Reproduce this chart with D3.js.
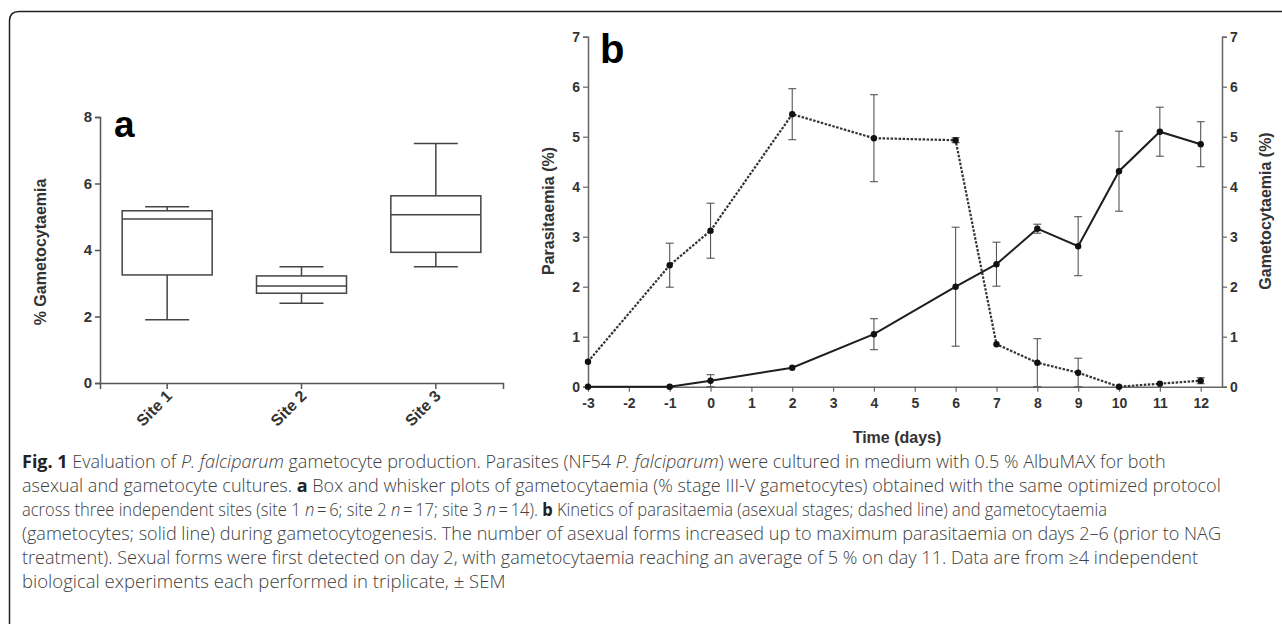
<!DOCTYPE html>
<html>
<head>
<meta charset="utf-8">
<script src="https://cdnjs.cloudflare.com/ajax/libs/d3/7.8.5/d3.min.js"></script>
<style>
	html, body { margin: 0; padding: 0; background: #fff; }
	svg { display: block; }
	.tick text { font-family: "Liberation Sans", Arial, sans-serif; font-weight: bold; fill: #333; }
	.caption { font-family: "Open Sans", sans-serif; font-weight: 300; fill: #404040; }
</style>
</head>
<body>
<div id="chart"></div>
<script>
// panel a: box plot values (% gametocytaemia)
var sites = ["Site 1", "Site 2", "Site 3"];
var boxMin = [1.9, 2.4, 3.5];
var boxQ1 = [3.25, 2.7, 3.93];
var boxMedian = [4.93, 2.92, 5.06];
var boxQ3 = [5.18, 3.22, 5.63];
var boxMax = [5.3, 3.5, 7.2];
var boxTicks = [0, 2, 4, 6, 8];

// panel b: kinetics over time
var days = [-3, -1, 0, 2, 4, 6, 7, 8, 9, 10, 11, 12];
var dayTicks = [-3, -2, -1, 0, 1, 2, 3, 4, 5, 6, 7, 8, 9, 10, 11, 12];
var parasitaemia = [0.5, 2.43, 3.12, 5.45, 4.97, 4.93, 0.85, 0.48, 0.28, 0.0, 0.06, 0.12];
var parasitaemiaSem = [0, 0.44, 0.55, 0.51, 0.87, 0.05, 0, 0.48, 0.29, 0, 0, 0.06];
var gametocytaemia = [0, 0, 0.12, 0.38, 1.05, 2.0, 2.45, 3.16, 2.81, 4.31, 5.1, 4.85];
var gametocytaemiaSem = [0, 0, 0.12, 0, 0.31, 1.19, 0.44, 0.09, 0.59, 0.8, 0.49, 0.45];
var percentTicks = [0, 1, 2, 3, 4, 5, 6, 7];

var captionLines = [
	[["b", "Fig. 1"], ["n", " Evaluation of "], ["i", "P. falciparum"], ["n", " gametocyte production. Parasites (NF54 "], ["i", "P. falciparum"], ["n", ") were cultured in medium with 0.5 % AlbuMAX for both"]],
	[["n", "asexual and gametocyte cultures. "], ["b", "a"], ["n", " Box and whisker plots of gametocytaemia (% stage III-V gametocytes) obtained with the same optimized protocol"]],
	[["n", "across three independent sites (site 1 "], ["i", "n"], ["n", "\u2009=\u20096; site 2 "], ["i", "n"], ["n", "\u2009=\u200917; site 3 "], ["i", "n"], ["n", "\u2009=\u200914). "], ["b", "b"], ["n", " Kinetics of parasitaemia (asexual stages; dashed line) and gametocytaemia"]],
	[["n", "(gametocytes; solid line) during gametocytogenesis. The number of asexual forms increased up to maximum parasitaemia on days 2\u20136 (prior to NAG"]],
	[["n", "treatment). Sexual forms were first detected on day 2, with gametocytaemia reaching an average of 5 % on day 11. Data are from \u22654 independent"]],
	[["n", "biological experiments each performed in triplicate, \u00b1 SEM"]]
];
var captionWidths = [1144, 1200, 1086, 1200, 1177, 484];

var width = 1282, height = 624;
var axisColor = "#555";
var lineColor = "#1e1e1e";
var plainFormat = function(d) { return String(d); };

var svg = d3.select("#chart").append("svg")
	.attr("width", width)
	.attr("height", height);

// frame with a rounded top-left corner
svg.append("path")
	.attr("d", "M1282,11.5 L19,11.5 Q9.5,11.5 9.5,21 L9.5,624")
	.attr("fill", "none")
	.attr("stroke", "#222")
	.attr("stroke-width", 1.5);

// ---------- panel a ----------
var xA = d3.scaleBand().domain(sites).range([100, 503]);
var yA = d3.scaleLinear().domain([0, 8]).range([383, 117]);
var boxW = 90, capW = 44;

var gA = svg.append("g");

var axA = gA.append("g")
	.attr("transform", "translate(100,0)")
	.call(d3.axisLeft(yA).tickValues(boxTicks).tickFormat(plainFormat).tickSize(5).tickPadding(3));
axA.selectAll("text").style("font-size", "15px");

var axAx = gA.append("g")
	.attr("transform", "translate(0,383)")
	.call(d3.axisBottom(xA).tickSize(6).tickFormat(""));

[axA, axAx].forEach(function(a) {
	a.select(".domain").attr("stroke", axisColor).attr("stroke-width", 1.5);
	a.selectAll(".tick line").attr("stroke", axisColor).attr("stroke-width", 1.5);
});

// rotated site labels
gA.selectAll("text.site")
	.data(sites).enter()
	.append("text")
		.attr("class", "site")
		.attr("text-anchor", "end")
		.attr("transform", function(d) {
			return "translate(" + (xA(d) + xA.bandwidth() / 2 + 6) + ",397) rotate(-45)";
		})
		.style("font-family", "Liberation Sans, Arial, sans-serif")
		.style("font-weight", "bold")
		.style("font-size", "16px")
		.style("fill", "#333")
		.text(function(d) { return d; });

var boxes = gA.selectAll("g.box")
	.data(sites).enter()
	.append("g")
		.attr("class", "box")
		.attr("stroke", "#444")
		.attr("stroke-width", 1.5)
		.attr("fill", "none");

boxes.each(function(d, i) {
	var g = d3.select(this);
	var cx = xA(d) + xA.bandwidth() / 2;
	// whiskers
	g.append("line").attr("x1", cx).attr("x2", cx).attr("y1", yA(boxMax[i])).attr("y2", yA(boxQ3[i]));
	g.append("line").attr("x1", cx).attr("x2", cx).attr("y1", yA(boxQ1[i])).attr("y2", yA(boxMin[i]));
	g.append("line").attr("x1", cx - capW / 2).attr("x2", cx + capW / 2).attr("y1", yA(boxMax[i])).attr("y2", yA(boxMax[i]));
	g.append("line").attr("x1", cx - capW / 2).attr("x2", cx + capW / 2).attr("y1", yA(boxMin[i])).attr("y2", yA(boxMin[i]));
	// box and median
	g.append("rect")
		.attr("x", cx - boxW / 2)
		.attr("y", yA(boxQ3[i]))
		.attr("width", boxW)
		.attr("height", yA(boxQ1[i]) - yA(boxQ3[i]))
		.attr("fill", "#fff");
	g.append("line").attr("x1", cx - boxW / 2).attr("x2", cx + boxW / 2).attr("y1", yA(boxMedian[i])).attr("y2", yA(boxMedian[i]));
});

gA.append("text")
	.attr("transform", "translate(46,252) rotate(-90)")
	.attr("text-anchor", "middle")
	.style("font-family", "Liberation Sans, Arial, sans-serif")
	.style("font-weight", "bold")
	.style("font-size", "16px")
	.style("fill", "#333")
	.text("% Gametocytaemia");

gA.append("text")
	.attr("x", 114)
	.attr("y", 137)
	.style("font-family", "Liberation Sans, Arial, sans-serif")
	.style("font-weight", "bold")
	.style("font-size", "37px")
	.style("fill", "#000")
	.text("a");

// ---------- panel b ----------
var xB = d3.scaleLinear().domain([-3, 12]).range([588, 1200.7]);
var yB = d3.scaleLinear().domain([0, 7]).range([386.7, 36.7]);
var rightX = 1222;

var gB = svg.append("g");

var axL = gB.append("g")
	.attr("transform", "translate(588,0)")
	.call(d3.axisLeft(yB).tickValues(percentTicks).tickFormat(plainFormat).tickSize(5).tickPadding(3));
var axR = gB.append("g")
	.attr("transform", "translate(" + rightX + ",0)")
	.call(d3.axisRight(yB).tickValues(percentTicks).tickFormat(plainFormat).tickSize(5).tickPadding(3));
var axB = gB.append("g")
	.attr("transform", "translate(0,386.7)")
	.call(d3.axisBottom(xB).tickValues(dayTicks).tickFormat(plainFormat).tickSize(5).tickPadding(6));
// stretch the time axis to the right axis
axB.select(".domain").attr("d", "M588,0.5H" + rightX);

[axL, axR, axB].forEach(function(a) {
	a.select(".domain").attr("stroke", "#666").attr("stroke-width", 1.5);
	a.selectAll(".tick line").attr("stroke", "#666").attr("stroke-width", 1.2);
	a.selectAll("text").style("font-size", "14px");
});

// error bars
function errorBars(values, sem, cls) {
	var g = gB.append("g").attr("class", cls).attr("stroke", "#555").attr("stroke-width", 1.1);
	days.forEach(function(d, i) {
		if (!sem[i]) return;
		var x = xB(d);
		var lo = Math.max(0, values[i] - sem[i]), hi = values[i] + sem[i];
		g.append("line").attr("x1", x).attr("x2", x).attr("y1", yB(hi)).attr("y2", yB(lo));
		g.append("line").attr("x1", x - 4).attr("x2", x + 4).attr("y1", yB(hi)).attr("y2", yB(hi));
		g.append("line").attr("x1", x - 4).attr("x2", x + 4).attr("y1", yB(lo)).attr("y2", yB(lo));
	});
}
errorBars(parasitaemia, parasitaemiaSem, "err-para");
errorBars(gametocytaemia, gametocytaemiaSem, "err-gam");

var line = d3.line()
	.x(function(d) { return xB(d[0]); })
	.y(function(d) { return yB(d[1]); });

gB.append("path")
	.datum(d3.zip(days, parasitaemia))
	.attr("d", line)
	.attr("fill", "none")
	.attr("stroke", "#333")
	.attr("stroke-width", 2.2)
	.attr("stroke-dasharray", "2.5,1.5");

gB.append("path")
	.datum(d3.zip(days, gametocytaemia))
	.attr("d", line)
	.attr("fill", "none")
	.attr("stroke", lineColor)
	.attr("stroke-width", 2);

[parasitaemia, gametocytaemia].forEach(function(series) {
	gB.append("g").selectAll("circle")
		.data(d3.zip(days, series)).enter()
		.append("circle")
			.attr("cx", function(d) { return xB(d[0]); })
			.attr("cy", function(d) { return yB(d[1]); })
			.attr("r", 3.2)
			.attr("fill", "#111");
});

function axisTitle(x, y, rot, txt) {
	gB.append("text")
		.attr("transform", "translate(" + x + "," + y + ")" + (rot ? " rotate(-90)" : ""))
		.attr("text-anchor", "middle")
		.style("font-family", "Liberation Sans, Arial, sans-serif")
		.style("font-weight", "bold")
		.style("font-size", "16px")
		.style("fill", "#333")
		.text(txt);
}
axisTitle(554, 211, true, "Parasitaemia (%)");
axisTitle(1271, 211, true, "Gametocytaemia (%)");
axisTitle(897, 443, false, "Time (days)");

gB.append("text")
	.attr("x", 600)
	.attr("y", 63)
	.style("font-family", "Liberation Sans, Arial, sans-serif")
	.style("font-weight", "bold")
	.style("font-size", "40px")
	.style("fill", "#000")
	.text("b");

// ---------- caption ----------
// each line is squeezed horizontally to the width it has in the figure
var cap = svg.append("g").attr("class", "caption");
captionLines.forEach(function(parts, i) {
	var holder = cap.append("g");
	var t = holder.append("text")
		.attr("x", 0)
		.attr("y", 0)
		.style("font-size", "17.5px");
	parts.forEach(function(p) {
		var s = t.append("tspan").text(p[1]);
		if (p[0] == "b") s.style("font-weight", "bold").style("fill", "#222");
		if (p[0] == "i") s.style("font-style", "italic");
	});
	var natural = t.node().getComputedTextLength();
	var sx = captionWidths[i] / natural;
	holder.attr("transform", "translate(22," + (468 + i * 24) + ") scale(" + sx + ",1)");
});
</script>
</body>
</html>
